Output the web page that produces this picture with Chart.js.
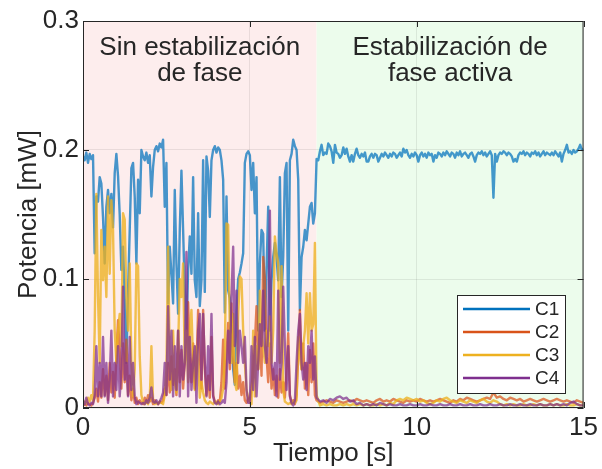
<!DOCTYPE html>
<html>
<head>
<meta charset="utf-8">
<script src="https://cdn.jsdelivr.net/npm/chart.js@4.4.1/dist/chart.umd.min.js"></script>
<style>
  html, body { margin: 0; padding: 0; background: #ffffff; }
  canvas { display: block; }
</style>
</head>
<body>
<canvas id="chart" width="602" height="469"></canvas>
<script>
// Potencia en cada canal: primero sin estabilización (0-7 s, cada 0.05 s),
// luego con estabilización de fase activa (C1 cada 0.05 s, el resto cada 0.1 s)
const seriesNames = ['C1', 'C2', 'C3', 'C4'];
const xTicks = [0, 5, 10, 15];
const yTicks = [0, 0.1, 0.2, 0.3];
const lockTime = 7;

const c1Free = [
    0.195, 0.192, 0.198, 0.190, 0.197, 0.193, 0.196, 0.120, 0.164, 0.160,
    0.179, 0.174, 0.148, 0.112, 0.156, 0.169, 0.151, 0.166, 0.140, 0.182,
    0.197, 0.180, 0.150, 0.107, 0.125, 0.086, 0.035, 0.090, 0.138, 0.186,
    0.190, 0.164, 0.112, 0.177, 0.151, 0.200, 0.195, 0.192, 0.198, 0.190,
    0.196, 0.164, 0.187, 0.200, 0.203, 0.199, 0.205, 0.202, 0.208, 0.156,
    0.190, 0.081, 0.125, 0.104, 0.081, 0.169, 0.112, 0.073, 0.138, 0.184,
    0.138, 0.091, 0.060, 0.107, 0.133, 0.104, 0.179, 0.099, 0.086, 0.151,
    0.079, 0.099, 0.192, 0.090, 0.195, 0.184, 0.148, 0.192, 0.200, 0.203,
    0.198, 0.202, 0.200, 0.192, 0.177, 0.074, 0.164, 0.091, 0.085, 0.060,
    0.030, 0.018, 0.075, 0.100, 0.105, 0.112, 0.120, 0.190, 0.197, 0.199,
    0.196, 0.169, 0.190, 0.151, 0.179, 0.060, 0.112, 0.138, 0.135, 0.060,
    0.107, 0.156, 0.060, 0.099, 0.117, 0.128, 0.117, 0.099, 0.179, 0.086,
    0.117, 0.182, 0.190, 0.060, 0.192, 0.197, 0.208, 0.203, 0.200, 0.177,
    0.076, 0.117, 0.125, 0.138, 0.130, 0.143, 0.156, 0.159, 0.143, 0.151,
    0.193
];
const c2Free = [
    0.002, 0.003, 0.002, 0.004, 0.003, 0.002, 0.004, 0.008, 0.015, 0.005,
    0.020, 0.008, 0.030, 0.010, 0.025, 0.006, 0.035, 0.012, 0.028, 0.008,
    0.040, 0.068, 0.045, 0.015, 0.050, 0.020, 0.053, 0.010, 0.025, 0.006,
    0.015, 0.004, 0.008, 0.003, 0.006, 0.004, 0.003, 0.008, 0.004, 0.010,
    0.005, 0.008, 0.003, 0.006, 0.004, 0.003, 0.005, 0.004, 0.006, 0.015,
    0.010, 0.035, 0.012, 0.040, 0.018, 0.030, 0.010, 0.060, 0.020, 0.045,
    0.015, 0.035, 0.050, 0.082, 0.040, 0.020, 0.050, 0.015, 0.030, 0.076,
    0.040, 0.015, 0.076, 0.030, 0.010, 0.025, 0.008, 0.055, 0.010, 0.005,
    0.004, 0.006, 0.005, 0.020, 0.053, 0.015, 0.040, 0.066, 0.030, 0.081,
    0.040, 0.020, 0.035, 0.015, 0.025, 0.010, 0.020, 0.006, 0.004, 0.008,
    0.005, 0.015, 0.030, 0.050, 0.079, 0.030, 0.060, 0.025, 0.117, 0.100,
    0.040, 0.020, 0.050, 0.015, 0.030, 0.010, 0.025, 0.008, 0.030, 0.012,
    0.020, 0.008, 0.030, 0.058, 0.010, 0.004, 0.006, 0.003, 0.010, 0.040,
    0.076, 0.030, 0.050, 0.015, 0.035, 0.010, 0.045, 0.020, 0.050, 0.010,
    0.006
];
const c3Free = [
    0.003, 0.005, 0.004, 0.008, 0.005, 0.010, 0.006, 0.060, 0.166, 0.086,
    0.035, 0.138, 0.099, 0.125, 0.086, 0.164, 0.104, 0.161, 0.138, 0.060,
    0.035, 0.060, 0.073, 0.048, 0.151, 0.146, 0.086, 0.060, 0.112, 0.035,
    0.009, 0.030, 0.112, 0.110, 0.040, 0.010, 0.004, 0.003, 0.005, 0.003,
    0.006, 0.048, 0.006, 0.003, 0.004, 0.003, 0.005, 0.004, 0.003, 0.010,
    0.030, 0.125, 0.035, 0.014, 0.060, 0.020, 0.012, 0.045, 0.100, 0.086,
    0.112, 0.035, 0.060, 0.020, 0.060, 0.076, 0.035, 0.014, 0.048, 0.035,
    0.008, 0.020, 0.012, 0.006, 0.004, 0.003, 0.005, 0.004, 0.003, 0.005,
    0.004, 0.003, 0.005, 0.008, 0.015, 0.040, 0.143, 0.142, 0.060, 0.035,
    0.073, 0.020, 0.014, 0.071, 0.102, 0.100, 0.060, 0.035, 0.014, 0.008,
    0.004, 0.003, 0.060, 0.009, 0.048, 0.030, 0.091, 0.060, 0.048, 0.035,
    0.060, 0.048, 0.071, 0.035, 0.060, 0.133, 0.120, 0.112, 0.035, 0.110,
    0.014, 0.005, 0.004, 0.003, 0.004, 0.003, 0.005, 0.004, 0.006, 0.055,
    0.040, 0.030, 0.048, 0.060, 0.089, 0.050, 0.089, 0.060, 0.065, 0.128,
    0.010
];
const c4Free = [
    0.005, 0.003, 0.008, 0.003, 0.002, 0.004, 0.003, 0.010, 0.048, 0.009,
    0.035, 0.009, 0.055, 0.009, 0.035, 0.004, 0.022, 0.060, 0.009, 0.035,
    0.014, 0.048, 0.009, 0.030, 0.094, 0.022, 0.035, 0.009, 0.055, 0.014,
    0.035, 0.009, 0.003, 0.005, 0.004, 0.003, 0.004, 0.003, 0.006, 0.004,
    0.008, 0.016, 0.005, 0.004, 0.006, 0.003, 0.005, 0.008, 0.012, 0.035,
    0.010, 0.079, 0.022, 0.060, 0.009, 0.048, 0.014, 0.060, 0.009, 0.048,
    0.022, 0.035, 0.121, 0.009, 0.055, 0.014, 0.035, 0.048, 0.004, 0.060,
    0.073, 0.022, 0.073, 0.035, 0.009, 0.048, 0.014, 0.073, 0.009, 0.004,
    0.003, 0.005, 0.003, 0.004, 0.006, 0.004, 0.020, 0.060, 0.035, 0.086,
    0.125, 0.048, 0.091, 0.035, 0.060, 0.048, 0.035, 0.055, 0.014, 0.004,
    0.004, 0.048, 0.014, 0.055, 0.009, 0.035, 0.065, 0.048, 0.091, 0.048,
    0.035, 0.060, 0.153, 0.035, 0.022, 0.035, 0.009, 0.091, 0.022, 0.035,
    0.094, 0.048, 0.014, 0.048, 0.009, 0.004, 0.002, 0.006, 0.035, 0.060,
    0.073, 0.035, 0.022, 0.035, 0.014, 0.048, 0.035, 0.060, 0.022, 0.040,
    0.008
];

// C1 with active stabilisation, 7.05-15 s every 0.05 s
const c1Locked = [
    0.192, 0.199, 0.204, 0.196, 0.198, 0.197, 0.205, 0.203, 0.199, 0.190,
    0.204, 0.198, 0.197, 0.194, 0.196, 0.202, 0.197, 0.201, 0.195, 0.191,
    0.196, 0.191, 0.197, 0.201, 0.196, 0.194, 0.197, 0.195, 0.198, 0.191,
    0.191, 0.195, 0.197, 0.194, 0.197, 0.196, 0.191, 0.194, 0.197, 0.195,
    0.198, 0.196, 0.194, 0.197, 0.195, 0.198, 0.197, 0.194, 0.196, 0.198,
    0.195, 0.201, 0.198, 0.200, 0.196, 0.194, 0.197, 0.195, 0.198, 0.196,
    0.191, 0.196, 0.198, 0.195, 0.197, 0.194, 0.198, 0.196, 0.197, 0.191,
    0.196, 0.194, 0.198, 0.197, 0.195, 0.198, 0.196, 0.199, 0.197, 0.195,
    0.198, 0.197, 0.194, 0.198, 0.196, 0.199, 0.195, 0.197, 0.198, 0.196,
    0.194, 0.197, 0.198, 0.195, 0.191, 0.196, 0.198, 0.197, 0.199, 0.196,
    0.198, 0.195, 0.197, 0.199, 0.196, 0.163, 0.197, 0.191, 0.196, 0.198,
    0.197, 0.199, 0.198, 0.196, 0.198, 0.197, 0.195, 0.191, 0.193, 0.191,
    0.196, 0.198, 0.197, 0.199, 0.196, 0.198, 0.197, 0.195, 0.198, 0.197,
    0.199, 0.196, 0.198, 0.195, 0.197, 0.199, 0.196, 0.198, 0.197, 0.196,
    0.198, 0.196, 0.199, 0.197, 0.195, 0.198, 0.191, 0.197, 0.200, 0.204,
    0.198, 0.199, 0.197, 0.200, 0.198, 0.199, 0.201, 0.204, 0.200, 0.201
];
// C2-C4 with active stabilisation, 7.1-15 s every 0.1 s
const c2Locked = [
    0.004, 0.005, 0.006, 0.005, 0.004, 0.006, 0.005, 0.004, 0.005, 0.006,
    0.005, 0.007, 0.006, 0.005, 0.006, 0.005, 0.004, 0.006, 0.007, 0.005,
    0.006, 0.005, 0.007, 0.006, 0.005, 0.004, 0.006, 0.005, 0.006, 0.005,
    0.007, 0.006, 0.005, 0.006, 0.005, 0.006, 0.007, 0.006, 0.005, 0.004,
    0.006, 0.005, 0.007, 0.006, 0.008, 0.007, 0.006, 0.005, 0.006, 0.007,
    0.008, 0.007, 0.012, 0.008, 0.009, 0.007, 0.006, 0.008, 0.007, 0.006,
    0.007, 0.005, 0.006, 0.007, 0.006, 0.005, 0.006, 0.007, 0.006, 0.005,
    0.006, 0.007, 0.006, 0.005, 0.006, 0.005, 0.004, 0.006, 0.005, 0.004
];
const c3Locked = [
    0.002, 0.003, 0.002, 0.003, 0.002, 0.002, 0.003, 0.002, 0.003, 0.002,
    0.003, 0.002, 0.003, 0.002, 0.003, 0.002, 0.002, 0.003, 0.002, 0.003,
    0.002, 0.004, 0.003, 0.006, 0.007, 0.006, 0.008, 0.007, 0.006, 0.007,
    0.005, 0.006, 0.004, 0.003, 0.004, 0.006, 0.005, 0.007, 0.008, 0.006,
    0.005, 0.004, 0.006, 0.005, 0.004, 0.006, 0.005, 0.004, 0.006, 0.007,
    0.005, 0.004, 0.006, 0.005, 0.003, 0.002, 0.003, 0.002, 0.003, 0.002,
    0.002, 0.003, 0.002, 0.002, 0.003, 0.002, 0.003, 0.002, 0.002, 0.003,
    0.002, 0.003, 0.002, 0.002, 0.003, 0.002, 0.002, 0.003, 0.002, 0.002
];
const c4Locked = [
    0.005, 0.006, 0.004, 0.007, 0.006, 0.008, 0.009, 0.007, 0.008, 0.005,
    0.006, 0.003, 0.004, 0.002, 0.003, 0.002, 0.003, 0.002, 0.004, 0.003,
    0.002, 0.003, 0.002, 0.002, 0.003, 0.002, 0.002, 0.003, 0.002, 0.002,
    0.003, 0.002, 0.002, 0.003, 0.002, 0.002, 0.003, 0.002, 0.002, 0.003,
    0.002, 0.002, 0.003, 0.002, 0.002, 0.003, 0.002, 0.002, 0.003, 0.002,
    0.002, 0.003, 0.002, 0.002, 0.003, 0.002, 0.002, 0.003, 0.002, 0.002,
    0.003, 0.002, 0.002, 0.003, 0.002, 0.002, 0.003, 0.002, 0.002, 0.003,
    0.002, 0.003, 0.002, 0.003, 0.002, 0.004, 0.005, 0.003, 0.002, 0.002
];

// sample times for each segment
const sampleTimes = (start, step, n) =>
    Array.from({ length: n }, (_, i) => Math.round((start + i * step) * 100) / 100);
const timeFree = sampleTimes(0, 0.05, c1Free.length);
const timeFine = sampleTimes(lockTime + 0.05, 0.05, c1Locked.length);
const timeCoarse = sampleTimes(lockTime + 0.1, 0.1, c2Locked.length);

const lineColors = ['#0072BD', '#D95319', '#EDB120', '#7E2F8E'];
const plotColors = [
    'rgba(0, 114, 189, 0.72)',
    'rgba(217, 83, 25, 0.72)',
    'rgba(237, 177, 32, 0.78)',
    'rgba(126, 47, 142, 0.72)'
];
const freeSeries = [c1Free, c2Free, c3Free, c4Free];
const lockedSeries = [c1Locked, c2Locked, c3Locked, c4Locked];
const lockedTimes = [timeFine, timeCoarse, timeCoarse, timeCoarse];

const textColor = '#262626';
const fontFamily = "'Liberation Sans', Arial, Helvetica, sans-serif";

const datasets = seriesNames.map((name, k) => {
    const pts = freeSeries[k].map((v, i) => ({ x: timeFree[i], y: v }))
        .concat(lockedSeries[k].map((v, i) => ({ x: lockedTimes[k][i], y: v })));
    return {
        label: name,
        data: pts,
        borderColor: plotColors[k],
        borderWidth: 2.4,
        pointRadius: 0,
        tension: 0,
        borderJoinStyle: 'round',
        order: 4 - k
    };
});

// shaded regions, frame, inner ticks, text labels and legend box
const decorations = {
    id: 'decorations',
    beforeDraw(chart) {
        const { ctx, chartArea: a, scales: { x } } = chart;
        const xs = x.getPixelForValue(lockTime);
        ctx.save();
        ctx.fillStyle = '#fdeded';
        ctx.fillRect(a.left, a.top, xs - a.left, a.bottom - a.top);
        ctx.fillStyle = '#ecfcec';
        ctx.fillRect(xs, a.top, a.right - xs, a.bottom - a.top);
        ctx.restore();
    },
    afterDraw(chart) {
        const { ctx, chartArea: a, scales: { x, y } } = chart;
        ctx.save();

        // axes frame
        ctx.strokeStyle = textColor;
        ctx.lineWidth = 1;
        ctx.strokeRect(a.left + 0.5, a.top + 0.5, a.right - a.left - 1, a.bottom - a.top - 1);

        // ticks pointing inwards
        const tl = 6;
        ctx.beginPath();
        xTicks.forEach(v => {
            const px = Math.round(x.getPixelForValue(v)) + 0.5;
            ctx.moveTo(px, a.bottom); ctx.lineTo(px, a.bottom - tl);
            ctx.moveTo(px, a.top); ctx.lineTo(px, a.top + tl);
        });
        yTicks.forEach(v => {
            const py = Math.round(y.getPixelForValue(v)) + 0.5;
            ctx.moveTo(a.left, py); ctx.lineTo(a.left + tl, py);
            ctx.moveTo(a.right, py); ctx.lineTo(a.right - tl, py);
        });
        ctx.stroke();

        // region labels
        ctx.fillStyle = textColor;
        ctx.font = '26px ' + fontFamily;
        ctx.textAlign = 'center';
        ctx.textBaseline = 'middle';
        const x1 = x.getPixelForValue(3.5);
        const x2 = x.getPixelForValue(11);
        ctx.fillText('Sin estabilización', x1, 48);
        ctx.fillText('de fase', x1, 74);
        ctx.fillText('Estabilización de', x2, 48);
        ctx.fillText('fase activa', x2, 74);

        // legend
        const bx = 457, by = 295, bw = 108, bh = 98;
        ctx.fillStyle = '#ffffff';
        ctx.fillRect(bx, by, bw, bh);
        ctx.strokeStyle = textColor;
        ctx.strokeRect(bx + 0.5, by + 0.5, bw, bh);
        ctx.font = '19px ' + fontFamily;
        ctx.textAlign = 'left';
        seriesNames.forEach((name, k) => {
            const ly = by + 14 + k * 23;
            ctx.strokeStyle = lineColors[k];
            ctx.lineWidth = 2.4;
            ctx.beginPath();
            ctx.moveTo(bx + 6, ly);
            ctx.lineTo(bx + 73, ly);
            ctx.stroke();
            ctx.fillStyle = textColor;
            ctx.fillText(name, bx + 78, ly + 1);
        });
        ctx.restore();
    }
};

new Chart(document.getElementById('chart'), {
    type: 'line',
    data: { datasets: datasets },
    options: {
        responsive: false,
        animation: false,
        devicePixelRatio: 1,
        layout: { padding: { top: 21, right: 18, bottom: 0, left: 0 } },
        plugins: {
            legend: { display: false },
            tooltip: { enabled: false }
        },
        scales: {
            x: {
                type: 'linear',
                min: 0,
                max: 15,
                afterFit: s => { s.height = 61; },
                afterBuildTicks: s => { s.ticks = xTicks.map(v => ({ value: v })); },
                ticks: {
                    color: textColor,
                    font: { family: fontFamily, size: 26 },
                    padding: 4,
                    maxRotation: 0,
                    callback: v => String(v)
                },
                grid: { color: 'rgba(0, 0, 0, 0.08)', drawTicks: false },
                border: { display: false },
                title: {
                    display: true,
                    text: 'Tiempo [s]',
                    color: textColor,
                    font: { family: fontFamily, size: 26 },
                    padding: { top: 0, bottom: 0 }
                }
            },
            y: {
                min: 0,
                max: 0.3,
                afterFit: s => { s.width = 83; },
                afterBuildTicks: s => { s.ticks = yTicks.map(v => ({ value: v })); },
                ticks: {
                    color: textColor,
                    font: { family: fontFamily, size: 26 },
                    padding: 4,
                    callback: v => String(+v.toFixed(1))
                },
                grid: { color: 'rgba(0, 0, 0, 0.08)', drawTicks: false },
                border: { display: false },
                title: {
                    display: true,
                    text: 'Potencia [mW]',
                    color: textColor,
                    font: { family: fontFamily, size: 26 },
                    padding: { top: 13, bottom: 0 }
                }
            }
        }
    },
    plugins: [decorations]
});
</script>
</body>
</html>
